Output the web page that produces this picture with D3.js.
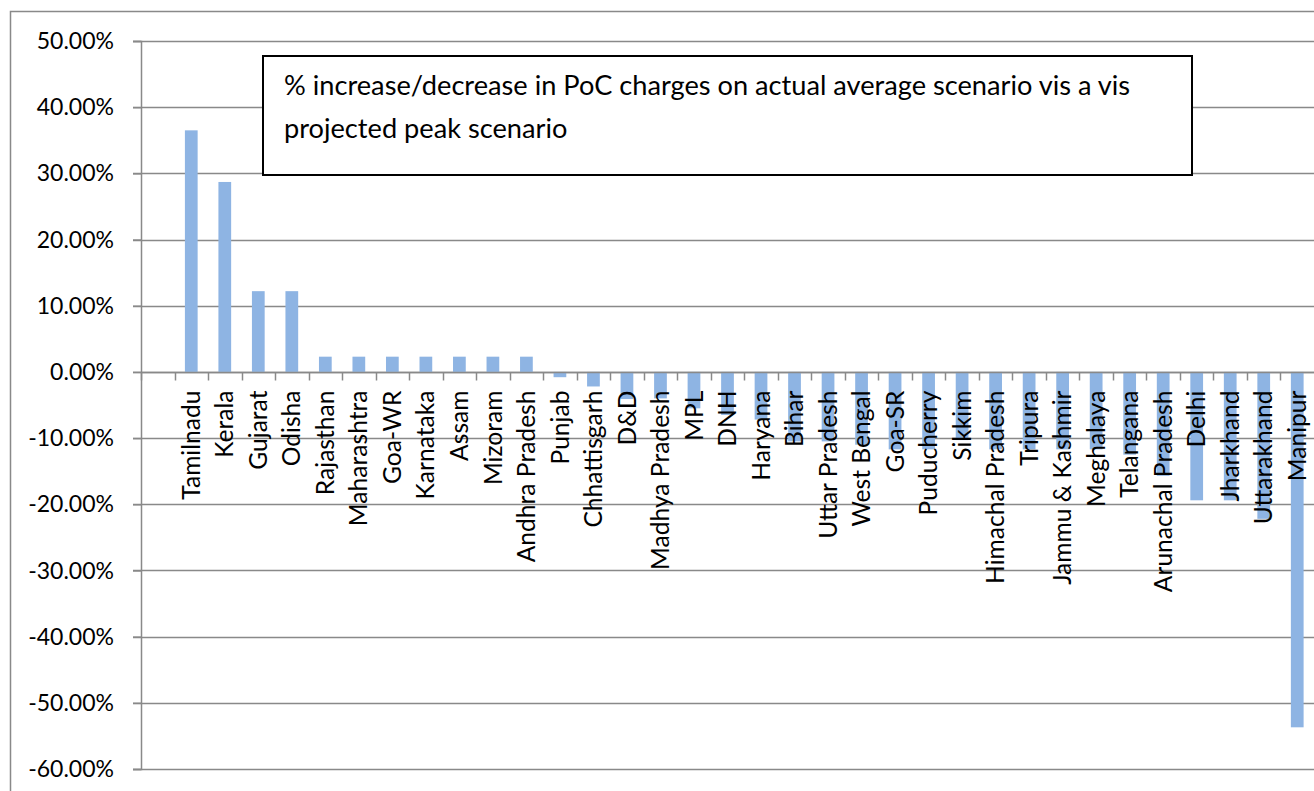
<!DOCTYPE html>
<html>
<head>
<meta charset="utf-8">
<script src="https://cdn.jsdelivr.net/npm/d3@7"></script>
<style>
  html, body { margin: 0; padding: 0; background: #fff; overflow: hidden; }
  svg { display: block; font-family: Lato, "Open Sans", sans-serif; }
</style>
</head>
<body>
<div id="chart"></div>
<script>
// Categories (first slot is blank in the source sheet)
const categories = ["", "Tamilnadu", "Kerala", "Gujarat", "Odisha", "Rajasthan", "Maharashtra",
    "Goa-WR", "Karnataka", "Assam", "Mizoram", "Andhra Pradesh", "Punjab", "Chhattisgarh", "D&D",
    "Madhya Pradesh", "MPL", "DNH", "Haryana", "Bihar", "Uttar Pradesh", "West Bengal", "Goa-SR",
    "Puducherry", "Sikkim", "Himachal Pradesh", "Tripura", "Jammu & Kashmir", "Meghalaya",
    "Telangana", "Arunachal Pradesh", "Delhi", "Jharkhand", "Uttarakhand", "Manipur"];

// % change
const values = [null, 0.365, 0.287, 0.122, 0.122, 0.023, 0.023, 0.023, 0.023, 0.023, 0.023, 0.023,
    -0.008, -0.022, -0.041, -0.040, -0.055, -0.065, -0.072, -0.105, -0.105, -0.110, -0.117,
    -0.117, -0.103, -0.117, -0.117, -0.117, -0.117, -0.125, -0.157, -0.194, -0.194, -0.222, -0.537];

const yTicks = [0.5, 0.4, 0.3, 0.2, 0.1, 0, -0.1, -0.2, -0.3, -0.4, -0.5, -0.6];

const titleLines = ["% increase/decrease in PoC charges on actual average scenario vis a vis",
    "projected peak scenario"];

const width = 1314, height = 791;
const margin = { top: 41, right: 0, bottom: 22, left: 141 };
const gridColor = '#898989';
const barColor = '#8EB4E3';

const svg = d3.select('#chart').append('svg')
    .attr('width', width)
    .attr('height', height);

// Outer chart frame
svg.append('rect')
    .attr('x', 10.5).attr('y', 11.5)
    .attr('width', width + 20).attr('height', height + 20)
    .attr('fill', 'none')
    .attr('stroke', gridColor)
    .attr('stroke-width', 1.5);

const x = d3.scaleBand()
    .domain(categories.map((c, i) => i))
    .range([margin.left, width])
    .paddingInner(0.62)
    .paddingOuter(0.31);

const y = d3.scaleLinear()
    .domain([-0.6, 0.5])
    .range([height - margin.bottom, margin.top]);

const fmt = d3.formatLocale({ decimal: '.', thousands: ',', grouping: [3], currency: ['', ''], minus: '-' })
    .format('.2%');

// Gridlines (including the small tick stub on the left)
svg.append('g')
    .selectAll('line')
    .data(yTicks)
    .enter().append('line')
    .attr('x1', margin.left - 8)
    .attr('x2', width)
    .attr('y1', d => Math.round(y(d)) + 0.5)
    .attr('y2', d => Math.round(y(d)) + 0.5)
    .attr('stroke', gridColor)
    .attr('stroke-width', 1.5);

// Y axis
const yAxis = svg.append('g')
    .attr('transform', `translate(${margin.left},0)`)
    .call(d3.axisLeft(y).tickValues(yTicks).tickFormat(fmt).tickSize(8).tickPadding(19));
yAxis.select('.domain').attr('stroke', gridColor).attr('stroke-width', 1.5);
yAxis.selectAll('.tick line').attr('stroke', gridColor).attr('stroke-width', 1.5);
yAxis.selectAll('.tick text')
    .attr('fill', '#000')
    .attr('font-family', 'Lato, "Open Sans", sans-serif')
    .attr('font-size', '23px')
    .attr('dy', '0.33em');

// Bars
const bars = categories.map((c, i) => ({ i, v: values[i] })).filter(d => d.v !== null);
svg.append('g')
    .selectAll('rect')
    .data(bars)
    .enter().append('rect')
    .attr('x', d => x(d.i))
    .attr('width', x.bandwidth())
    .attr('y', d => y(Math.max(0, d.v)))
    .attr('height', d => Math.abs(y(d.v) - y(0)))
    .attr('fill', barColor);

// Zero line with category ticks
const y0 = Math.round(y(0)) + 0.5;
const step = x.step();
const gap = (step - x.bandwidth()) / 2;
svg.append('line')
    .attr('x1', margin.left).attr('x2', width)
    .attr('y1', y0).attr('y2', y0)
    .attr('stroke', gridColor).attr('stroke-width', 1.5);
svg.append('g')
    .selectAll('line')
    .data(categories.map((c, i) => i))
    .enter().append('line')
    .attr('x1', d => Math.round(x(d) - gap) + 0.5)
    .attr('x2', d => Math.round(x(d) - gap) + 0.5)
    .attr('y1', y0).attr('y2', y0 + 8)
    .attr('stroke', gridColor).attr('stroke-width', 1.5);

// Category labels, rotated, drawn over the bars
svg.append('g')
    .selectAll('text')
    .data(categories.map((c, i) => ({ c, i })).filter(d => d.c))
    .enter().append('text')
    .attr('transform', d => `translate(${x(d.i) + x.bandwidth() / 2},${y0 + 18}) rotate(-90)`)
    .attr('text-anchor', 'end')
    .attr('dy', '0.35em')
    .attr('font-size', '24.6px')
    .attr('fill', '#000')
    .text(d => d.c);

// Title box
const box = svg.append('g');
box.append('rect')
    .attr('x', 263).attr('y', 56)
    .attr('width', 929).attr('height', 119)
    .attr('fill', '#fff')
    .attr('stroke', '#000')
    .attr('stroke-width', 2);
box.selectAll('text')
    .data(titleLines)
    .enter().append('text')
    .attr('x', 284)
    .attr('y', (d, i) => 95 + i * 43)
    .attr('font-size', '27.2px')
    .attr('fill', '#000')
    .text(d => d);
</script>
</body>
</html>
